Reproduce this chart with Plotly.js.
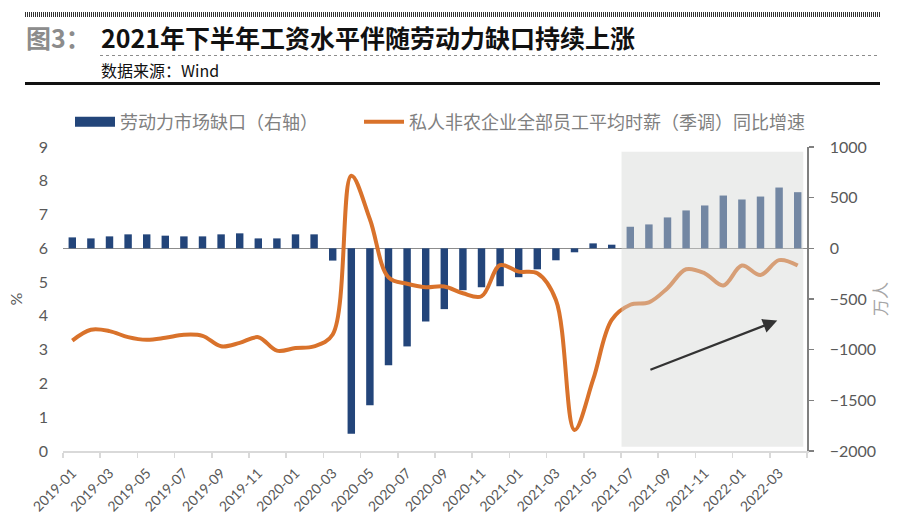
<!DOCTYPE html>
<html><head><meta charset="utf-8">
<script src="https://cdn.plot.ly/plotly-3.0.1.min.js"></script>
<style>html,body{margin:0;padding:0;background:#fff;} #chart{width:900px;height:523px;}</style>
</head><body><div id="chart"></div>
<script>
// ---- data ----
const months = [
  '2019-01','2019-02','2019-03','2019-04','2019-05','2019-06','2019-07','2019-08','2019-09','2019-10','2019-11','2019-12',
  '2020-01','2020-02','2020-03','2020-04','2020-05','2020-06','2020-07','2020-08','2020-09','2020-10','2020-11','2020-12',
  '2021-01','2021-02','2021-03','2021-04','2021-05','2021-06','2021-07','2021-08','2021-09','2021-10','2021-11','2021-12',
  '2022-01','2022-02','2022-03','2022-04'
];
const gapName = '劳动力市场缺口（右轴）';
const wageName = '私人非农企业全部员工平均时薪（季调）同比增速';
// 劳动力市场缺口, 万人 (right axis)
const laborGap = [108, 98, 118, 138, 138, 125, 118, 118, 138, 148, 98, 98,
  138, 138, -121, -1830, -1548, -1155, -968, -722, -600, -413, -384, -374,
  -285, -207, -118, -39, 49, 36, 213, 236, 305, 374, 423, 521,
  482, 511, 600, 554];
// 时薪同比增速, % (left axis)
const wageGrowth = [3.27, 3.59, 3.55, 3.37, 3.29, 3.35, 3.44, 3.41, 3.10, 3.20, 3.37, 2.97,
  3.05, 3.10, 3.45, 8.15, 6.86, 5.14, 4.95, 4.85, 4.87, 4.67, 4.58, 5.50,
  5.31, 5.26, 4.47, 0.62, 2.11, 3.88, 4.33, 4.40, 4.82, 5.38, 5.26, 4.90,
  5.49, 5.21, 5.65, 5.49];
const leftTicks = [0,1,2,3,4,5,6,7,8,9];
const rightTicks = [-2000,-1500,-1000,-500,0,500,1000];

// ---- helpers ----
const idx = months.map((m, i) => i);
const labelIdx = idx.filter(i => i % 2 === 0);
const labelText = labelIdx.map(i => months[i]);
const boundaries = labelIdx.map(i => i - 0.5).concat([months.length - 0.5]);

const W = 900, H = 523, L = 63, R = 807, T = 147, B = 451;
const px = x => (x - L) / (R - L);
const py = y => (B - y) / (B - T);

const FONT = 'Lato, "Noto Sans CJK SC", sans-serif';
const CJK = '"Noto Sans CJK SC", sans-serif';
const BAR_COLOR = '#23457a';
const LINE_COLOR = '#d9722b';

const traces = [
  {
    type: 'bar', name: gapName, x: idx, y: laborGap, yaxis: 'y', showlegend: false,
    width: 0.4, marker: {color: BAR_COLOR, line: {width: 0}}
  },
  {
    type: 'scatter', mode: 'lines', name: wageName, x: idx, y: wageGrowth, yaxis: 'y2',
    legend: 'legend2',
    line: {color: LINE_COLOR, width: 4, shape: 'spline', smoothing: 1}
  },
  // legend-only entry: wide rectangular swatch for the bars
  {
    type: 'scatter', mode: 'lines', name: gapName, x: [null], y: [null], yaxis: 'y',
    legend: 'legend', hoverinfo: 'skip',
    line: {color: BAR_COLOR, width: 10}
  }
];

const legendFont = {family: CJK, size: 18, color: '#808080'};
const layout = {
  width: W, height: H,
  margin: {l: L, r: W - R, t: T, b: H - B},
  paper_bgcolor: '#ffffff', plot_bgcolor: 'rgba(0,0,0,0)',
  font: {family: FONT, color: '#595959', size: 14},
  showlegend: true,
  legend: {
    orientation: 'h', x: px(70), xanchor: 'left', y: py(122), yanchor: 'middle',
    font: legendFont, bgcolor: 'rgba(0,0,0,0)', itemwidth: 40
  },
  legend2: {
    orientation: 'h', x: px(359), xanchor: 'left', y: py(122), yanchor: 'middle',
    font: legendFont, bgcolor: 'rgba(0,0,0,0)', itemwidth: 40
  },
  xaxis: {
    range: [-0.5, months.length - 0.5],
    tickmode: 'array', tickvals: labelIdx, ticktext: labelText, tickangle: -45,
    ticks: 'outside', ticklen: 7, tickcolor: 'rgba(0,0,0,0)',
    showline: true, linecolor: '#d9d9d9', linewidth: 1.5,
    showgrid: false, zeroline: false,
    tickfont: {family: FONT, size: 14, color: '#595959'},
    minor: {tickmode: 'array', tickvals: boundaries, ticks: 'outside', ticklen: 5,
            tickcolor: '#d9d9d9', tickwidth: 1.5, showgrid: false}
  },
  yaxis: {
    side: 'right', range: [-2000, 1000], tickmode: 'array', tickvals: rightTicks,
    showline: true, linecolor: '#808080', linewidth: 1.5,
    ticks: 'outside', ticklen: 5, tickcolor: '#808080', tickwidth: 1.5,
    showgrid: false, zeroline: true, zerolinecolor: '#8c8c8c', zerolinewidth: 1.5,
    tickfont: {family: FONT, size: 16, color: '#595959'}, ticklabelstandoff: 13,
    title: {text: '万人', font: {family: CJK, size: 17, color: '#a6a6a6'}, standoff: 0}
  },
  yaxis2: {
    overlaying: 'y', side: 'left', range: [0, 9], tickmode: 'array', tickvals: leftTicks,
    showline: false, showgrid: false, zeroline: false, ticks: '',
    tickfont: {family: FONT, size: 16, color: '#595959'}, ticklabelstandoff: 14,
    title: {text: '%', font: {family: FONT, size: 16, color: '#595959'}, standoff: 12}
  },
  shapes: [
    {type: 'rect', xref: 'x', yref: 'paper', x0: 29.53, x1: 39.3, y0: py(446.7), y1: py(151.7),
     fillcolor: 'rgba(212,214,212,0.45)', line: {width: 0}, layer: 'above'},
    {type: 'line', xref: 'paper', yref: 'paper', x0: px(25), x1: px(880), y0: py(14.5), y1: py(14.5),
     line: {color: '#333333', width: 5, dash: '1px,1px'}},
    {type: 'line', xref: 'paper', yref: 'paper', x0: px(100), x1: px(880), y0: py(55.5), y1: py(55.5),
     line: {color: '#8c8c8c', width: 1, dash: 'dot'}},
    {type: 'line', xref: 'paper', yref: 'paper', x0: px(25), x1: px(880), y0: py(83.5), y1: py(83.5),
     line: {color: '#111111', width: 3}}
  ],
  annotations: [
    {xref: 'paper', yref: 'paper', x: px(24), y: py(37), xanchor: 'left', yanchor: 'middle', showarrow: false,
     text: '图3：', font: {family: CJK, size: 25, weight: 'bold', color: '#8c8c8c'}},
    {xref: 'paper', yref: 'paper', x: px(99), y: py(37), xanchor: 'left', yanchor: 'middle', showarrow: false,
     text: '2021年下半年工资水平伴随劳动力缺口持续上涨', font: {family: CJK, size: 25, weight: 'bold', color: '#111111'}},
    {xref: 'paper', yref: 'paper', x: px(99), y: py(70), xanchor: 'left', yanchor: 'middle', showarrow: false,
     text: '数据来源：Wind', font: {family: CJK, size: 16, color: '#111111'}},
    {xref: 'x', yref: 'y2', x: 37.9, y: 3.86, axref: 'x', ayref: 'y2', ax: 31.0, ay: 2.39,
     showarrow: true, arrowhead: 2, arrowsize: 1.3, arrowwidth: 2.2, arrowcolor: '#333333', text: ''}
  ]
};

Plotly.newPlot('chart', traces, layout, {displayModeBar: false, staticPlot: true});
</script>
</body></html>
